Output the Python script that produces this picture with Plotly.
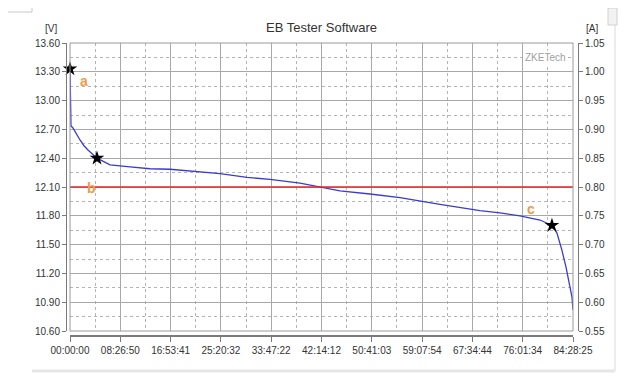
import plotly.graph_objects as go

# ---- data ----
TOTAL_SECONDS = 84 * 3600 + 28 * 60 + 25
TOTAL_H = TOTAL_SECONDS / 3600.0
TICK_LABELS = ["00:00:00", "08:26:50", "16:53:41", "25:20:32", "33:47:22", "42:14:12",
               "50:41:03", "59:07:54", "67:34:44", "76:01:34", "84:28:25"]
HOURS = [0.0, 0.05, 0.1, 0.168, 0.5, 1.0, 1.68, 2.35, 3.02, 4.53, 6.72, 10.08, 13.43,
         16.79, 21.83, 25.19, 29.73, 33.59, 38.63, 41.98, 45.34, 50.38, 55.42, 62.14,
         68.85, 72.21, 75.57, 78.93, 80.94, 81.78, 82.62, 83.29, 83.80, 84.30, 84.47]
VOLTS = [13.33, 13.20, 13.00, 12.735, 12.715, 12.66, 12.59, 12.53, 12.485, 12.40, 12.33,
         12.31, 12.29, 12.285, 12.256, 12.24, 12.20, 12.18, 12.14, 12.10, 12.06, 12.027,
         11.99, 11.92, 11.853, 11.83, 11.80, 11.756, 11.70, 11.62, 11.44, 11.267, 11.10,
         10.954, 10.82]
REF_V = 12.10
STAR_H = [0.0, 4.53, 80.94]
STAR_V = [13.33, 12.40, 11.70]
LABELS = ["a", "b", "c"]
LABEL_H = [2.27, 3.53, 77.4]
LABEL_V = [13.204, 12.09, 11.87]
V_RANGE = [10.60, 13.60]
A_RANGE = [0.55, 1.05]

tickvals = [TOTAL_H * i / 10 for i in range(11)]
minor_x = [TOTAL_H * (i + 0.5) / 10 for i in range(10)]

FONT = "Liberation Sans"
GRID = "#a8a8a8"
MINOR = "#b4b4b4"
AXC = "#7a7a7a"
DASH = "3px,3px"

# page body has an 8px margin: size the figure so the plot lands where the reference has it
OFF = 8
W, H = 640 - OFF, 380 - OFF
ML, MR, MT, MB = 66 - OFF, 62, 43 - OFF, 44
PW = W - ML - MR
PH = H - MT - MB


def px(xp):
    return (xp - 66) / PW


def py(yp):
    return (336 - yp) / PH


fig = go.Figure()
fig.add_trace(go.Scatter(x=HOURS, y=VOLTS, mode="lines",
                         line=dict(color="#3a3ad4", width=1.3), hoverinfo="skip"))
fig.add_trace(go.Scatter(x=STAR_H, y=STAR_V, mode="markers",
                         marker=dict(symbol="star", size=11, color="black"),
                         cliponaxis=False, hoverinfo="skip"))
fig.add_trace(go.Scatter(x=[], y=[], yaxis="y2", hoverinfo="skip"))

fig.add_hline(y=REF_V, line=dict(color="#e02828", width=1.5))

fig.update_layout(
    width=W, height=H, showlegend=False,
    margin=dict(l=ML, r=MR, t=MT, b=MB, autoexpand=False),
    paper_bgcolor="white", plot_bgcolor="white",
    font=dict(family=FONT, size=10, color="#333333"),
    xaxis=dict(domain=[4 / PW, 507 / PW], range=[0, TOTAL_H], anchor="free", position=0,
               tickmode="array", tickvals=tickvals, ticktext=TICK_LABELS,
               showgrid=True, gridcolor=GRID, gridwidth=1,
               minor=dict(tickmode="array", tickvals=minor_x, showgrid=True,
                          gridcolor=MINOR, griddash=DASH, ticks=""),
               showline=True, linecolor=AXC, linewidth=2,
               ticks="outside", ticklen=5, tickcolor=AXC,
               zeroline=False, fixedrange=True),
    yaxis=dict(domain=[5 / PH, 1], range=V_RANGE, anchor="free", position=0,
               dtick=0.3, tick0=10.6, tickformat=".2f",
               showgrid=True, gridcolor=GRID,
               minor=dict(dtick=0.15, tick0=10.6, showgrid=True, gridcolor=MINOR,
                          griddash=DASH, ticks=""),
               showline=True, linecolor=AXC, linewidth=1,
               ticks="outside", ticklen=4, tickcolor=AXC,
               zeroline=False, fixedrange=True),
    yaxis2=dict(domain=[5 / PH, 1], range=A_RANGE, overlaying="y", side="right",
                anchor="free", position=1, dtick=0.05, tick0=0.55, tickformat=".2f",
                showgrid=False, showline=True, linecolor=AXC, linewidth=1,
                ticks="outside", ticklen=4, tickcolor=AXC,
                zeroline=False, fixedrange=True),
)

# plot frame
fig.add_shape(type="rect", xref="x domain", yref="y domain", x0=0, x1=1, y0=0, y1=1,
              line=dict(color="#9a9a9a", width=1), layer="above")

# texts
def ptext(text, x, y, size, color="#333333", **kw):
    fig.add_annotation(text=text, xref="paper", yref="paper", x=px(x), y=py(y),
                       xanchor="center", yanchor="middle", showarrow=False,
                       font=dict(size=size, color=color), **kw)


ptext("EB Tester Software", 321, 27, 13)
ptext("[V]", 51, 29, 10)
ptext("[A]", 592, 29, 10)
fig.add_annotation(text="ZKETech", xref="x domain", yref="paper",
                   x=0.99, xanchor="right", y=py(57), yanchor="middle", showarrow=False,
                   bgcolor="white", borderpad=1,
                   font=dict(size=10, color="#a0a0a0"))
for t, hx, vy in zip(LABELS, LABEL_H, LABEL_V):
    fig.add_annotation(text="<b>%s</b>" % t, x=hx, y=vy, xref="x", yref="y",
                       xanchor="center", yanchor="middle",
                       showarrow=False, font=dict(size=14, color="#f29a4a"))

# window decorations
fig.add_shape(type="line", xref="paper", yref="paper", x0=px(32), x1=px(615),
              y0=py(371), y1=py(371), line=dict(color="#e6e6e6", width=3))
fig.add_shape(type="line", xref="paper", yref="paper", x0=px(615), x1=px(615),
              y0=py(8), y1=py(371), line=dict(color="#ececec", width=2))
fig.add_shape(type="rect", xref="paper", yref="paper", x0=px(608), x1=px(617),
              y0=py(25), y1=py(8), line=dict(color="#d0d0d0", width=1),
              fillcolor="#f2f2f2")
fig.add_shape(type="line", xref="paper", yref="paper", x0=px(32), x1=px(32),
              y0=py(8), y1=py(12), line=dict(color="#c8c8c8", width=1))
fig.add_shape(type="line", xref="paper", yref="paper", x0=px(8), x1=px(32),
              y0=py(12), y1=py(12), line=dict(color="#c8c8c8", width=1))

fig.write_html("out.html")
